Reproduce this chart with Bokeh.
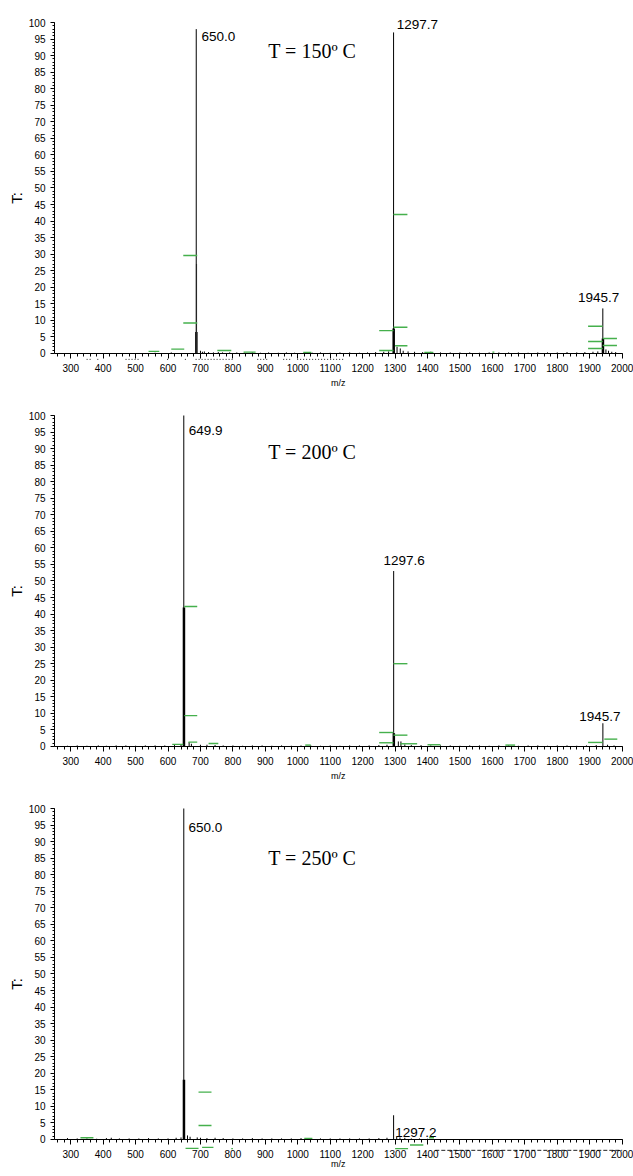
import numpy as np
from bokeh.plotting import figure
from bokeh.layouts import column
from bokeh.models import Range1d, FixedTicker, ColumnDataSource, Label
from bokeh.embed import file_html
from bokeh.resources import INLINE
from bokeh.core.properties import value

# ---------------- data ----------------
X_TICKS = list(range(300, 2001, 100))
X_MINOR = list(range(260, 2001, 20))
Y_TICKS = list(range(0, 101, 5))
Y_MINOR = list(range(0, 101, 1))

TITLES = ["T = 150º C", "T = 200º C", "T = 250º C"]
TITLE_MZ = [909, 909, 909]
TITLE_INT = [91.5, 88.9, 84.9]

# ---- panel 1 : T = 150 C ----
p1_peak_mz = [687.0, 1295.3, 1940.4]
p1_peak_int = [98.0, 97.0, 13.6]
p1_shoulder_mz = [687.8]
p1_shoulder_int = [27.0]
p1_base_mz = [687.4, 1295.7, 1940.8]
p1_base_int = [6.5, 7.5, 4.5]
p1_noise_mz = [560, 610, 700, 706, 712, 725, 740, 755, 768, 790, 812, 835, 860, 885, 910, 940,
               965, 990, 1020, 1045, 1070, 1100, 1130, 1160, 1190, 1215, 1240, 1265, 1280,
               1306, 1316, 1325, 1340, 1360, 1385, 1410, 1440, 1470, 1500, 1530, 1560, 1590,
               1620, 1650, 1680, 1710, 1740, 1770, 1800, 1830, 1860, 1885, 1910, 1925,
               1950, 1958, 1968, 1980]
p1_noise_int = [0.2, 0.3, 0.8, 0.5, 0.6, 0.4, 0.3, 0.4, 0.3, 0.3, 0.3, 0.2, 0.3, 0.2, 0.3, 0.2,
                0.3, 0.2, 0.3, 0.2, 0.3, 0.2, 0.3, 0.3, 0.2, 0.3, 0.4, 0.5, 0.6,
                2.0, 1.5, 0.8, 0.6, 0.5, 0.4, 0.5, 0.3, 0.3, 0.3, 0.3, 0.2, 0.3,
                0.3, 0.3, 0.3, 0.2, 0.3, 0.3, 0.3, 0.4, 0.3, 0.4, 0.5, 0.6,
                1.2, 0.8, 0.5, 0.4]
p1_green_x0 = [647, 647, 540, 610, 752, 833, 1017, 1295, 1295, 1251, 1300, 1251, 1390, 1600,
               1895, 1940, 1895, 1940, 1895]
p1_green_x1 = [690, 690, 573, 650, 795, 870, 1042, 1338, 1338, 1295, 1338, 1295, 1418, 1606,
               1940, 1984, 1940, 1984, 1940]
p1_green_int = [29.6, 9.2, 0.6, 1.3, 0.9, 0.4, 0.3, 42.0, 7.9, 6.9, 2.3, 0.9, 0.3, 0.4,
                8.2, 4.5, 3.6, 2.4, 1.5]
p1_label_text = ["650.0", "1297.7", "1945.7"]
p1_label_mz = [703, 1305, 1864]
p1_label_int = [95.8, 99.4, 16.8]
p1_mark_x0 = [349, 382, 469, 597, 652, 685, 875, 955, 998]
p1_mark_x1 = [367, 385, 515, 601, 656, 802, 906, 977, 1140]
p1_mark_int = [-1.8, -1.8, -1.8, -1.8, -1.8, -1.8, -1.8, -1.8, -1.8]

# ---- panel 2 : T = 200 C ----
p2_peak_mz = [648.6, 1295.6, 1940.6]
p2_peak_int = [100.0, 53.0, 7.0]
p2_shoulder_mz = []
p2_shoulder_int = []
p2_base_mz = [649.1, 1296.1]
p2_base_int = [42.0, 4.0]
p2_noise_mz = [290, 320, 350, 385, 410, 440, 470, 500, 530, 560, 590, 620, 640, 665, 672, 700,
               720, 745, 770, 800, 830, 860, 890, 920, 950, 980, 1010, 1040, 1070, 1100, 1130,
               1160, 1190, 1220, 1250, 1275, 1310, 1318, 1330, 1350, 1380, 1410, 1440, 1470,
               1500, 1530, 1560, 1590, 1620, 1650, 1680, 1710, 1740, 1770, 1800, 1830, 1860,
               1890, 1920, 1955, 1975]
p2_noise_int = [0.2, 0.3, 0.2, 0.3, 0.2, 0.3, 0.3, 0.2, 0.3, 0.3, 0.3, 0.4, 0.5, 1.3, 0.8, 0.5,
                0.5, 0.4, 0.3, 0.3, 0.2, 0.3, 0.3, 0.2, 0.3, 0.2, 0.3, 0.3, 0.2, 0.3, 0.2,
                0.3, 0.3, 0.3, 0.4, 0.5, 1.5, 1.5, 0.6, 0.4, 0.4, 0.3, 0.3, 0.3,
                0.2, 0.3, 0.3, 0.2, 0.3, 0.3, 0.2, 0.3, 0.3, 0.2, 0.3, 0.3, 0.2,
                0.3, 0.4, 0.5, 0.3]
p2_green_x0 = [650, 650, 663, 613, 725, 1023, 1295, 1251, 1295, 1251, 1316, 1400, 1640, 1895, 1945]
p2_green_x1 = [690, 690, 690, 647, 755, 1040, 1338, 1295, 1338, 1295, 1368, 1440, 1670, 1940, 1985]
p2_green_int = [42.3, 9.3, 1.3, 0.6, 0.9, 0.4, 25.0, 4.2, 3.4, 1.1, 0.8, 0.5, 0.4, 1.2, 2.2]
p2_label_text = ["649.9", "1297.6", "1945.7"]
p2_label_mz = [664, 1264, 1868]
p2_label_int = [95.6, 56.3, 8.9]
p2_mark_x0 = []
p2_mark_x1 = []
p2_mark_int = []

# ---- panel 3 : T = 250 C ----
p3_peak_mz = [648.6, 1295.4]
p3_peak_int = [100.0, 7.3]
p3_shoulder_mz = []
p3_shoulder_int = []
p3_base_mz = [649.1]
p3_base_int = [18.0]
p3_noise_mz = [290, 320, 350, 380, 410, 425, 450, 480, 510, 540, 570, 600, 625, 640, 660, 668,
               690, 700, 720, 745, 770, 800, 830, 860, 890, 920, 950, 980, 1010, 1040, 1070,
               1100, 1130, 1160, 1190, 1220, 1250, 1275, 1305, 1315, 1330, 1350, 1375, 1400]
p3_noise_int = [0.4, 0.3, 0.3, 0.2, 0.4, 0.5, 0.3, 0.3, 0.3, 0.4, 0.3, 0.3, 0.5, 0.6, 1.2, 0.8,
                0.6, 0.5, 0.4, 0.5, 0.4, 0.3, 0.3, 0.4, 0.3, 0.3, 0.3, 0.3, 0.4, 0.3, 0.3,
                0.3, 0.3, 0.3, 0.3, 0.3, 0.4, 0.5, 0.8, 0.6, 0.5, 0.3, 0.3, 0.2]
p3_green_x0 = [694, 694, 654, 705, 795, 1300, 1346, 1405, 330, 1020]
p3_green_x1 = [734, 734, 694, 740, 800, 1340, 1387, 1420, 370, 1045]
p3_green_int = [14.3, 4.2, -2.7, -2.4, -2.8, -2.8, -1.7, 0.5, 0.5, 0.3]
p3_label_text = ["650.0", "1297.2"]
p3_label_mz = [663, 1300.5]
p3_label_int = [94.4, 2.2]
p3_mark_x0 = [1424]
p3_mark_x1 = [2000]
p3_mark_int = [-3.3]

PANELS = [
    dict(peak=(p1_peak_mz, p1_peak_int), shoulder=(p1_shoulder_mz, p1_shoulder_int),
         base=(p1_base_mz, p1_base_int), noise=(p1_noise_mz, p1_noise_int),
         green=(p1_green_x0, p1_green_x1, p1_green_int),
         labels=(p1_label_text, p1_label_mz, p1_label_int),
         marks=(p1_mark_x0, p1_mark_x1, p1_mark_int), dash="1 2"),
    dict(peak=(p2_peak_mz, p2_peak_int), shoulder=(p2_shoulder_mz, p2_shoulder_int),
         base=(p2_base_mz, p2_base_int), noise=(p2_noise_mz, p2_noise_int),
         green=(p2_green_x0, p2_green_x1, p2_green_int),
         labels=(p2_label_text, p2_label_mz, p2_label_int),
         marks=(p2_mark_x0, p2_mark_x1, p2_mark_int), dash="1 2"),
    dict(peak=(p3_peak_mz, p3_peak_int), shoulder=(p3_shoulder_mz, p3_shoulder_int),
         base=(p3_base_mz, p3_base_int), noise=(p3_noise_mz, p3_noise_int),
         green=(p3_green_x0, p3_green_x1, p3_green_int),
         labels=(p3_label_text, p3_label_mz, p3_label_int),
         marks=(p3_mark_x0, p3_mark_x1, p3_mark_int), dash="4 2"),
]

# ---------------- layout ----------------
HEIGHTS = [401, 393, 382]
TOPS = [9, 1, 1]
FRAME_H = 377
Y_LO, Y_HI = -10.0, 103.93
X_LO, X_HI = 250, 2035        # frame padded right so the "2000" label is not clipped
MZ_LABEL_INT = [-9.06, -9.06, -7.3]

SANS = "Liberation Sans"
SERIF = "Liberation Serif"
GREEN = "#45b04c"


def sticks(p, mz, inten, **kw):
    if len(mz) == 0:
        return
    src = ColumnDataSource(dict(x=list(mz), y0=[0.0] * len(mz), y1=list(inten)))
    p.segment(x0="x", y0="y0", x1="x", y1="y1", source=src, line_cap="butt", **kw)


def make_panel(i, d):
    p = figure(width=633, height=HEIGHTS[i],
               x_range=Range1d(X_LO, X_HI), y_range=Range1d(Y_LO, Y_HI),
               output_backend="svg", toolbar_location=None,
               min_border_left=54, min_border_right=0, min_border_top=TOPS[i],
               min_border_bottom=HEIGHTS[i] - TOPS[i] - FRAME_H)
    p.outline_line_color = None
    p.xgrid.visible = False
    p.ygrid.visible = False
    p.background_fill_color = "white"
    p.border_fill_color = "white"

    xa = p.xaxis[0]
    xa.fixed_location = 0
    xa.bounds = (250, 2000)
    xa.ticker = FixedTicker(ticks=X_TICKS, minor_ticks=X_MINOR)
    xa.major_tick_in = 0
    xa.major_tick_out = 5
    xa.minor_tick_in = 0
    xa.minor_tick_out = 3
    xa.major_label_standoff = 6
    xa.major_label_text_font = SANS
    xa.major_label_text_font_size = "10px"
    xa.major_label_text_color = "black"
    xa.axis_line_color = "black"
    xa.major_tick_line_color = "black"
    xa.minor_tick_line_color = "black"

    ya = p.yaxis[0]
    ya.bounds = (0, 100)
    ya.ticker = FixedTicker(ticks=Y_TICKS, minor_ticks=Y_MINOR)
    ya.major_tick_in = 0
    ya.major_tick_out = 4
    ya.minor_tick_in = 0
    ya.minor_tick_out = 2
    ya.major_label_standoff = 5
    ya.major_label_text_font = SANS
    ya.major_label_text_font_size = "10px"
    ya.major_label_text_color = "black"
    ya.axis_line_color = "black"
    ya.major_tick_line_color = "black"
    ya.minor_tick_line_color = "black"
    ya.axis_label = "T:"
    ya.axis_label_text_font = SANS
    ya.axis_label_text_font_size = "15px"
    ya.axis_label_text_font_style = "normal"
    ya.axis_label_text_color = "black"
    ya.axis_label_standoff = 1

    # x-axis title
    p.add_layout(Label(x=1125, y=MZ_LABEL_INT[i], text="m/z", text_align="center",
                       text_baseline="middle", text_font=SANS, text_font_size="9px",
                       text_color="black"))

    # baseline noise
    sticks(p, *d["noise"], line_color="black", line_width=1)
    # base clusters (thick)
    sticks(p, *d["base"], line_color="black", line_width=2.5)
    # shoulder peaks
    sticks(p, *d["shoulder"], line_color="#8a8a8a", line_width=1.2)
    # main peaks
    sticks(p, *d["peak"], line_color="black", line_width=1)

    # green centroid markers
    gx0, gx1, gy = d["green"]
    gsrc = ColumnDataSource(dict(x0=gx0, x1=gx1, y=gy))
    p.segment(x0="x0", y0="y", x1="x1", y1="y", source=gsrc,
              line_color=GREEN, line_width=1.4, line_cap="butt")

    # scan marks
    mx0, mx1, my = d["marks"]
    if len(mx0):
        msrc = ColumnDataSource(dict(x0=mx0, x1=mx1, y=my))
        p.segment(x0="x0", y0="y", x1="x1", y1="y", source=msrc,
                  line_color="#222222", line_width=1, line_dash=d["dash"])

    # peak labels
    lt, lx, ly = d["labels"]
    lsrc = ColumnDataSource(dict(x=lx, y=ly, t=lt))
    p.text(x="x", y="y", text="t", source=lsrc, text_font=value(SANS),
           text_font_size=value("13.5px"), text_align="left",
           text_baseline="alphabetic", text_color="black")

    # temperature title
    tsrc = ColumnDataSource(dict(x=[TITLE_MZ[i]], y=[TITLE_INT[i]], t=[TITLES[i]]))
    p.text(x="x", y="y", text="t", source=tsrc, text_font=value(SERIF),
           text_font_size=value("20px"), text_align="left",
           text_baseline="alphabetic", text_color="black")
    return p


figs = [make_panel(i, d) for i, d in enumerate(PANELS)]
layout = column(*figs, spacing=0)

open("out.html", "w").write(file_html(layout, INLINE))
